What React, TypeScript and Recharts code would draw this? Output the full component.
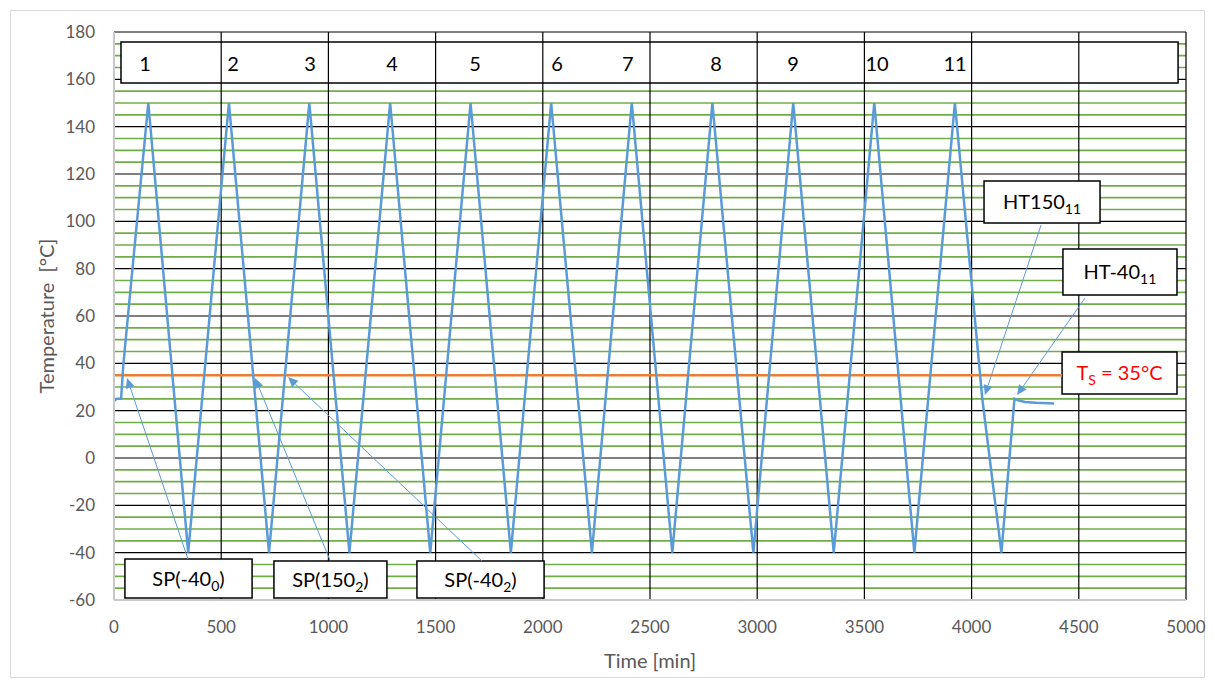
import React from 'react';
import {
  LineChart,
  Line,
  XAxis,
  YAxis,
  CartesianGrid,
  ReferenceLine,
  ReferenceArea,
  ReferenceDot,
} from 'recharts';

// ---- data ----
const timeMin = [
  0, 12, 33, 44, 160, 346, 536, 723, 911, 1098, 1288, 1475, 1663, 1851, 2039, 2229,
  2415, 2604, 2791, 2982, 3168, 3357, 3546, 3733, 3922, 4050, 4139, 4200, 4220, 4250,
  4300, 4385,
];
const tempC = [
  24, 25, 25, 40, 150, -40, 150, -40, 150, -40, 150, -40, 150, -40, 150, -40,
  150, -40, 150, -40, 150, -40, 150, -40, 150, 25, -40, 25, 24.3, 23.7,
  23.3, 23,
];

const xTicks = [0, 500, 1000, 1500, 2000, 2500, 3000, 3500, 4000, 4500, 5000];
const yTicks = [-60, -40, -20, 0, 20, 40, 60, 80, 100, 120, 140, 160, 180];
const minorY: number[] = [];
for (let v = -55; v < 180; v += 5) if (v % 20 !== 0) minorY.push(v);
const majorVertical = [500, 1000, 1500, 2000, 2500, 3000, 3500, 4000, 4500, 5000];

const cycleLabels = ['1', '2', '3', '4', '5', '6', '7', '8', '9', '10', '11'];
const cycleLabelTime = [145, 555, 914, 1297, 1684, 2066, 2397, 2808, 3167, 3559, 3923];
const cycleLabelTemp = 166.5;

const sunIntensityTs = 35;

// annotation boxes (data units)
const boxes = [
  { x1: 51, x2: 644, y1: -59.2, y2: -42.7, main: 'SP(-40', sub: '0', tail: ')', color: '#000' },
  { x1: 746, x2: 1273, y1: -59.2, y2: -43.5, main: 'SP(150', sub: '2', tail: ')', color: '#000' },
  { x1: 1413, x2: 2006, y1: -59.2, y2: -43.5, main: 'SP(-40', sub: '2', tail: ')', color: '#000' },
  { x1: 4058, x2: 4599, y1: 99.3, y2: 117, main: 'HT150', sub: '11', tail: '', color: '#000' },
  { x1: 4426, x2: 4958, y1: 68.9, y2: 88.3, main: 'HT-40', sub: '11', tail: '', color: '#000' },
  { x1: 4422, x2: 4958, y1: 27, y2: 44.8, main: 'T', sub: 'S', tail: ' = 35°C', color: '#ff0000' },
];

// arrows: from box to tip (data units)
const arrows = [
  { from: { x: 345, y: -42.7 }, to: { x: 60.6, y: 33.8 } },
  { from: { x: 1007, y: -43.1 }, to: { x: 658, y: 33.8 } },
  { from: { x: 1716, y: -43.5 }, to: { x: 811.6, y: 34.2 } },
  { from: { x: 4324, y: 98.4 }, to: { x: 4062, y: 26.6 } },
  { from: { x: 4529, y: 67.6 }, to: { x: 4212, y: 26.6 } },
];

const topBox = { x1: 32.6, x2: 4963, y1: 158.4, y2: 175.8 };

const data = timeMin.map((t, i) => ({ t, v: tempC[i] }));

const FONT = 'Lato, "Open Sans", sans-serif';
const GRAY = '#595959';
const BLUE = '#5b9bd5';

const BoxText = (props: any) => {
  const { viewBox, main, sub, tail, color } = props;
  if (!viewBox) return null;
  const cx = viewBox.x + viewBox.width / 2;
  const cy = viewBox.y + viewBox.height / 2;
  return (
    <text
      x={cx}
      y={cy + 7}
      textAnchor="middle"
      fontFamily={FONT}
      fontSize={20}
      fill={color}
      style={{ whiteSpace: 'pre' }}
    >
      {main}
      <tspan fontSize={14} dy={5}>
        {sub}
      </tspan>
      {tail ? <tspan dy={-5}>{tail}</tspan> : null}
    </text>
  );
};

const ArrowShape = (props: any) => {
  const { x1, y1, x2, y2 } = props;
  if ([x1, y1, x2, y2].some((n) => typeof n !== 'number' || isNaN(n))) return null;
  const dx = x2 - x1;
  const dy = y2 - y1;
  const len = Math.sqrt(dx * dx + dy * dy) || 1;
  const ux = dx / len;
  const uy = dy / len;
  const hl = 10;
  const hw = 4.5;
  const bx = x2 - ux * hl;
  const by = y2 - uy * hl;
  const pts = `${x2},${y2} ${bx - uy * hw},${by + ux * hw} ${bx + uy * hw},${by - ux * hw}`;
  return (
    <g>
      <line x1={x1} y1={y1} x2={bx} y2={by} stroke={BLUE} strokeWidth={1} />
      <polygon points={pts} fill={BLUE} />
    </g>
  );
};

const YLabel = (props: any) => {
  const { viewBox } = props;
  if (!viewBox) return null;
  const x = 46;
  const y = viewBox.y + viewBox.height / 2;
  return (
    <text
      x={x}
      y={y}
      transform={`rotate(-90, ${x}, ${y})`}
      textAnchor="middle"
      dominantBaseline="central"
      fontFamily={FONT}
      fontSize={20}
      fill={GRAY}
      style={{ whiteSpace: 'pre' }}
    >
      {'Temperature  [°C]'}
    </text>
  );
};

const XLabel = (props: any) => {
  const { viewBox } = props;
  if (!viewBox) return null;
  const x = viewBox.x + viewBox.width / 2;
  return (
    <text
      x={x}
      y={660}
      textAnchor="middle"
      dominantBaseline="central"
      fontFamily={FONT}
      fontSize={20}
      fill={GRAY}
    >
      Time [min]
    </text>
  );
};

export default function App() {
  return (
    <div style={{ position: 'absolute', left: 0, top: 0, width: 1215, height: 685, background: '#fff' }}>
      <div
        style={{
          position: 'absolute',
          left: 10,
          top: 10,
          width: 1195,
          height: 668,
          border: '1px solid #d9d9d9',
          boxSizing: 'border-box',
        }}
      />
      <div style={{ position: 'absolute', left: 0, top: 0 }}>
        <LineChart width={1215} height={685} data={data} margin={{ top: 32, right: 29, bottom: 55, left: 0 }}>
          <CartesianGrid
            horizontalValues={minorY}
            vertical={false}
            stroke="#70ad47"
            strokeWidth={1.6}
          />
          <CartesianGrid
            horizontalValues={yTicks}
            verticalValues={majorVertical}
            stroke="#000000"
            strokeWidth={1.2}
          />
          <XAxis
            type="number"
            dataKey="t"
            domain={[0, 5000]}
            ticks={xTicks}
            interval={0}
            height={30}
            tickLine={false}
            tickSize={0}
            tickMargin={21}
            axisLine={{ stroke: '#c8c8c8', strokeWidth: 2 }}
            tick={{ fill: GRAY, fontSize: 17, fontFamily: FONT }}
            label={<XLabel />}
          />
          <YAxis
            type="number"
            domain={[-60, 180]}
            ticks={yTicks}
            interval={0}
            width={114}
            tickLine={false}
            tickSize={0}
            tickMargin={19}
            axisLine={{ stroke: '#c8c8c8', strokeWidth: 2 }}
            tick={{ fill: GRAY, fontSize: 17, fontFamily: FONT }}
            label={<YLabel />}
          />
          <ReferenceLine
            segment={[
              { x: 0, y: sunIntensityTs },
              { x: boxes[5].x1, y: sunIntensityTs },
            ]}
            stroke="#ed7d31"
            strokeWidth={2.5}
          />
          <Line
            type="linear"
            dataKey="v"
            stroke={BLUE}
            strokeWidth={2.5}
            dot={false}
            activeDot={false}
            isAnimationActive={false}
          />
          <ReferenceArea
            x1={topBox.x1}
            x2={topBox.x2}
            y1={topBox.y1}
            y2={topBox.y2}
            fill="#ffffff"
            fillOpacity={1}
            stroke="#000"
            strokeWidth={1.5}
            ifOverflow="visible"
          />
          {majorVertical.slice(0, 9).map((xv) => (
            <ReferenceLine
              key={'vl' + xv}
              segment={[
                { x: xv, y: topBox.y1 },
                { x: xv, y: topBox.y2 },
              ]}
              stroke="#000"
              strokeWidth={1.2}
            />
          ))}
          {cycleLabels.map((lab, i) => (
            <ReferenceDot
              key={'c' + lab}
              x={cycleLabelTime[i]}
              y={cycleLabelTemp}
              r={0}
              fill="none"
              stroke="none"
              label={{ value: lab, position: 'center', fill: '#000', fontSize: 20, fontFamily: FONT }}
            />
          ))}
          {boxes.map((b, i) => (
            <ReferenceArea
              key={'b' + i}
              x1={b.x1}
              x2={b.x2}
              y1={b.y1}
              y2={b.y2}
              fill="#ffffff"
              fillOpacity={1}
              stroke="#000"
              strokeWidth={1.5}
              ifOverflow="visible"
              label={<BoxText main={b.main} sub={b.sub} tail={b.tail} color={b.color} />}
            />
          ))}
          {arrows.map((a, i) => (
            <ReferenceLine key={'a' + i} segment={[a.from, a.to]} shape={(p: any) => <ArrowShape {...p} />} />
          ))}
        </LineChart>
      </div>
    </div>
  );
}
